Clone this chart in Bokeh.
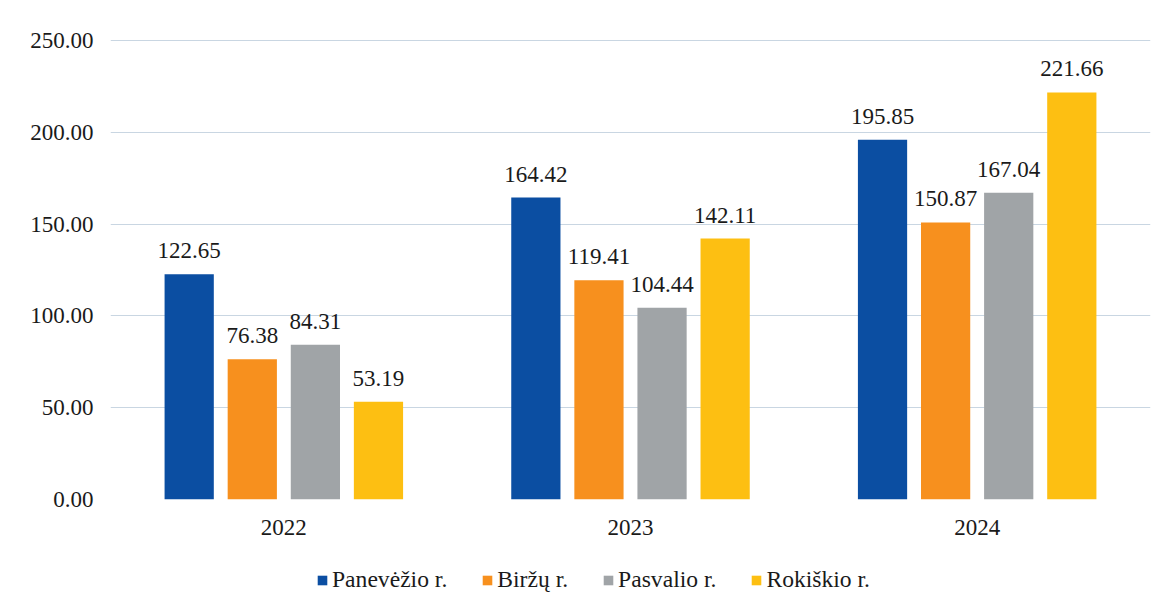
from bokeh.plotting import figure
from bokeh.layouts import column
from bokeh.models import ColumnDataSource, FactorRange, LabelSet, Legend, LegendItem, NumeralTickFormatter, FixedTicker
from bokeh.transform import dodge
from bokeh.embed import file_html
from bokeh.resources import INLINE

years = ["2022", "2023", "2024"]
series = ["Panevėžio r.", "Biržų r.", "Pasvalio r.", "Rokiškio r."]
panevezio = [122.65, 164.42, 195.85]
birzu = [76.38, 119.41, 150.87]
pasvalio = [84.31, 104.44, 167.04]
rokiskio = [53.19, 142.11, 221.66]
colors = ["#0B4EA2", "#F7901E", "#A0A4A7", "#FDBF12"]
y_ticks = [0, 50, 100, 150, 200, 250]

values = [panevezio, birzu, pasvalio, rokiskio]
offsets = [-0.273, -0.091, 0.091, 0.273]
FONT = "Liberation Serif"

p = figure(x_range=FactorRange(*years), y_range=(0, 250.5),
           width=1160, height=555,
           output_backend="svg", toolbar_location=None,
           min_border_left=110, min_border_right=10, min_border_top=39, min_border_bottom=56)
p.outline_line_color = None
p.background_fill_color = "white"
p.border_fill_color = "white"

for name, vals, off, col in zip(series, values, offsets, colors):
    src = ColumnDataSource(dict(year=years, v=vals, lab=[f"{x:.2f}" for x in vals]))
    p.vbar(x=dodge("year", off, range=p.x_range), top="v", width=0.142, source=src,
           fill_color=col, line_color=None)
    labels = LabelSet(x=dodge("year", off, range=p.x_range), y="v", text="lab", source=src,
                      text_align="center", text_baseline="alphabetic", y_offset=16,
                      text_font=FONT, text_font_size="23px", text_color="#1a1a1a")
    p.add_layout(labels)

p.yaxis.ticker = FixedTicker(ticks=y_ticks)
p.yaxis.formatter = NumeralTickFormatter(format="0.00")
for ax in (p.xaxis, p.yaxis):
    ax.axis_line_color = None
    ax.major_tick_line_color = None
    ax.minor_tick_line_color = None
    ax.major_label_text_font = FONT
    ax.major_label_text_font_size = "23px"
    ax.major_label_text_color = "#1a1a1a"
p.yaxis.major_label_standoff = 11
p.xaxis.major_label_standoff = 14
p.xgrid.grid_line_color = None
p.ygrid.grid_line_color = "#C9D6E2"
p.ygrid.grid_line_width = 1

# legend strip below the chart
lf = figure(width=1160, height=44, x_range=(0, 1), y_range=(0, 1),
            output_backend="svg", toolbar_location=None,
            min_border=0, min_border_left=0, min_border_right=0, min_border_top=0, min_border_bottom=0)
lf.axis.visible = False
lf.grid.visible = False
lf.outline_line_color = None
items = []
for name, col in zip(series, colors):
    r = lf.vbar(x=[-5], top=[-5], width=0.1, fill_color=col, line_color=None)
    items.append(LegendItem(label=name, renderers=[r]))
legend = Legend(items=items, orientation="horizontal", location=(206, 6),
                label_text_font=FONT, label_text_font_size="23.6px", label_text_color="#1a1a1a",
                glyph_width=12, glyph_height=12, label_standoff=4, spacing=34,
                border_line_color=None, background_fill_alpha=0, margin=0, padding=2)
lf.add_layout(legend)

layout = column(p, lf, spacing=0)
open("out.html", "w").write(file_html(layout, INLINE))
